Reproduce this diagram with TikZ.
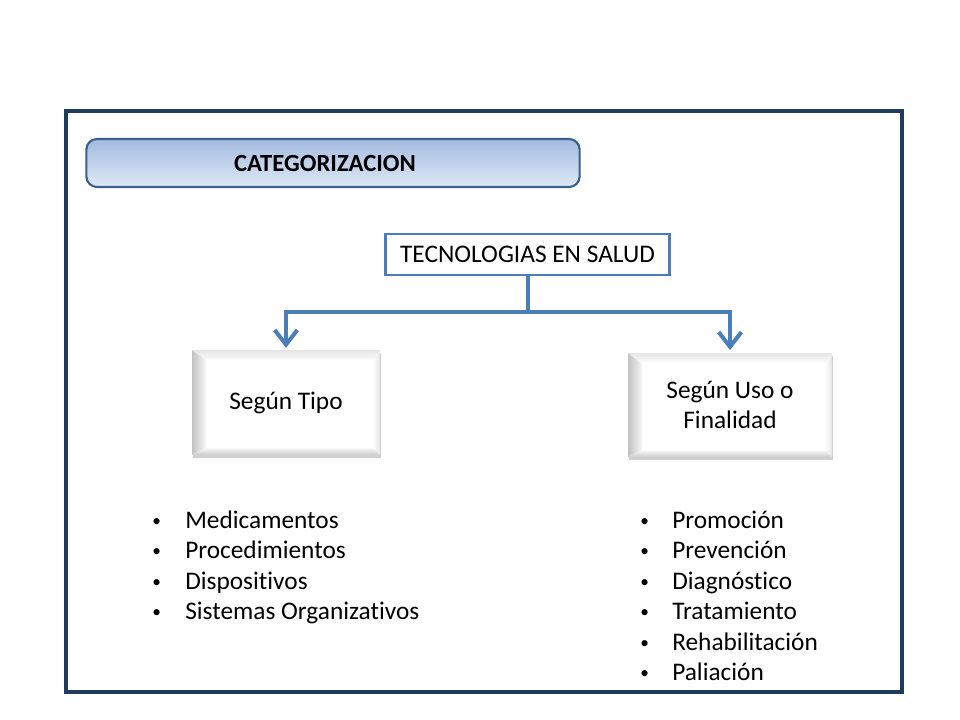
\documentclass[tikz,border=0pt]{standalone}
\usepackage{fontspec}
\setmainfont{Carlito}[Ligatures=NoCommon]
\usetikzlibrary{arrows.meta,shadows}

\definecolor{framenavy}{HTML}{1F3B5E}
\definecolor{titleedge}{HTML}{3A5F8C}
\definecolor{titletop}{HTML}{A3BBE0}
\definecolor{titlebot}{HTML}{DFE8F5}
\definecolor{accentblue}{HTML}{4A7EBB}

\newcommand{\smallbullet}{\raisebox{1.5pt}{\fontsize{13}{13}\selectfont•}}

\tikzset{
  titlebox/.style={draw=titleedge, line width=1.6pt, rounded corners=8pt,
    top color=titletop, bottom color=titlebot,
    minimum width=370pt, minimum height=36pt, font=\fontsize{18.5}{22}\selectfont\bfseries},
  rootbox/.style={draw=accentblue, line width=1.8pt, fill=white,
    minimum width=213pt, minimum height=30.5pt, font=\fontsize{19}{23}\selectfont},
  bevelbox/.style={fill=white, align=center, font=\fontsize{19}{23}\selectfont,
    drop shadow={shadow xshift=1pt, shadow yshift=-2.2pt, opacity=0.3, fill=black!60},
    path picture={
      \coordinate (pp-sw) at (path picture bounding box.south west);
      \coordinate (pp-nw) at (path picture bounding box.north west);
      \coordinate (pp-ne) at (path picture bounding box.north east);
      \coordinate (pp-se) at (path picture bounding box.south east);
      \shade[left color=black!24, right color=black!4]
        (pp-sw) -- (pp-nw) -- ([shift={(10pt,-7pt)}]pp-nw) -- ([shift={(10pt,5pt)}]pp-sw) -- cycle;
      \shade[top color=black!10, bottom color=black!2]
        (pp-nw) -- (pp-ne) -- ([shift={(-5pt,-7pt)}]pp-ne) -- ([shift={(10pt,-7pt)}]pp-nw) -- cycle;
      \shade[bottom color=black!20, top color=black!3]
        (pp-sw) -- (pp-se) -- ([shift={(-5pt,5pt)}]pp-se) -- ([shift={(10pt,5pt)}]pp-sw) -- cycle;
      \shade[right color=black!10, left color=black!1]
        (pp-se) -- (pp-ne) -- ([shift={(-5pt,-7pt)}]pp-ne) -- ([shift={(-5pt,5pt)}]pp-se) -- cycle;
    }},
  conn/.style={draw=accentblue, line width=3pt},
  listitem/.style={anchor=base west, inner sep=0pt, font=\fontsize{19}{23}\selectfont},
}

\begin{document}
\begin{tikzpicture}[x=0.75pt, y=-0.75pt]
  \fill[white] (0,0) rectangle (960,720);
  \useasboundingbox (0,0) rectangle (960,720);

  % frame
  \draw[framenavy, line width=3pt] (66,111) rectangle (901.5,691.5);

  \node[titlebox] (cat) at (333,163) {\hspace{-12pt}CATEGORIZACION};
  \node[rootbox] (tec) at (527.5,254.5) {TECNOLOGIAS EN SALUD};

  \node[bevelbox, minimum width=141pt, minimum height=78.5pt] (tipo) at (286,402.5) {Según Tipo};
  \node[bevelbox, minimum width=153pt, minimum height=78pt] (uso) at (730,405) {Según Uso o\\Finalidad};

  % fork
  \coordinate (fork) at (tec.south |- 0,312);
  \draw[conn] (tec.south) -- (fork);
  \draw[conn, -{Straight Barb[length=11pt, width=17pt]}] (fork) -| ([yshift=1.5pt]tipo.north);
  \draw[conn, -{Straight Barb[length=11pt, width=17pt]}] (fork) -| ([yshift=2pt]uso.north);

  % lists
  \foreach \txt [count=\i] in {Medicamentos, Procedimientos, Dispositivos, Sistemas Organizativos}
    \node[listitem] (tipo-\i) at (152, {497.5+30.5*\i}) {\makebox[24.75pt][l]{\smallbullet}\txt};
  \foreach \txt [count=\i] in {Promoción, Prevención, Diagnóstico, Tratamiento, Rehabilitación, Paliación}
    \node[listitem] (uso-\i) at (640, {497.5+30.5*\i}) {\makebox[24pt][l]{\smallbullet}\txt};
\end{tikzpicture}
\end{document}
